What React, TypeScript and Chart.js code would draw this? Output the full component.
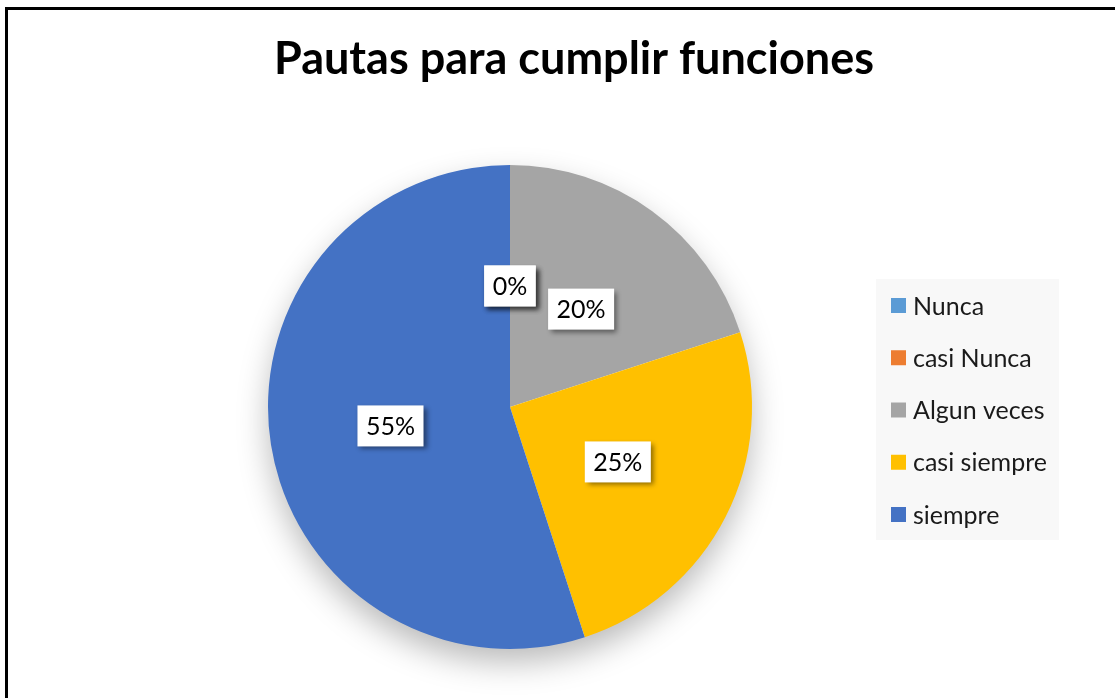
import React, { useEffect, useRef } from 'react';
import { Chart, registerables } from 'chart.js';

Chart.register(...registerables);

const titleText = 'Pautas para cumplir funciones';
const categories = ['Nunca', 'casi Nunca', 'Algun veces', 'casi siempre', 'siempre'];
const values = [0, 0, 20, 25, 55];
const sliceColors = ['#5B9BD5', '#ED7D31', '#A5A5A5', '#FFC000', '#4472C4'];

const FONT = 'Lato, "Open Sans", "Noto Sans", sans-serif';

export default function App() {
  const ref = useRef<HTMLCanvasElement>(null);

  useEffect(() => {
    if (!ref.current) return;
    const total = values.reduce((a, b) => a + b, 0);

    const decor = {
      id: 'excelDecor',
      beforeDatasetsDraw(chart: any) {
        const ctx = chart.ctx;
        const arc = chart.getDatasetMeta(0).data[0];
        if (!arc) return;
        const { x, y, outerRadius } = arc.getProps(['x', 'y', 'outerRadius'], true);
        ctx.save();
        ctx.shadowColor = 'rgba(0,0,0,0.28)';
        ctx.shadowBlur = 32;
        ctx.shadowOffsetX = 0;
        ctx.shadowOffsetY = 14;
        ctx.beginPath();
        ctx.arc(x, y, outerRadius - 1, 0, Math.PI * 2);
        ctx.fillStyle = '#ffffff';
        ctx.fill();
        ctx.restore();
      },
      afterDatasetsDraw(chart: any) {
        const ctx = chart.ctx;
        const meta = chart.getDatasetMeta(0);
        ctx.save();
        ctx.font = `25px ${FONT}`;
        meta.data.forEach((el: any, i: number) => {
          const pos = el.tooltipPosition(true);
          const txt = Math.round((values[i] / total) * 100) + '%';
          const tw = ctx.measureText(txt).width;
          const w = tw + 17;
          const h = 41;
          ctx.save();
          ctx.shadowColor = 'rgba(0,0,0,0.45)';
          ctx.shadowBlur = 5;
          ctx.shadowOffsetX = 3;
          ctx.shadowOffsetY = 3;
          ctx.fillStyle = '#ffffff';
          ctx.fillRect(pos.x - w / 2, pos.y - h / 2, w, h);
          ctx.restore();
          ctx.fillStyle = '#000000';
          ctx.textAlign = 'center';
          ctx.textBaseline = 'middle';
          ctx.fillText(txt, pos.x, pos.y + 1);
        });
        ctx.restore();
      },
      afterDraw(chart: any) {
        const ctx = chart.ctx;
        ctx.save();
        // title
        ctx.font = `bold 45px ${FONT}`;
        ctx.fillStyle = '#000000';
        ctx.textAlign = 'center';
        ctx.textBaseline = 'alphabetic';
        ctx.fillText(titleText, 574, 74);
        // legend
        ctx.fillStyle = '#F8F8F8';
        ctx.fillRect(876, 279, 183, 261);
        ctx.font = `25px ${FONT}`;
        ctx.textAlign = 'left';
        ctx.textBaseline = 'middle';
        categories.forEach((c, i) => {
          const cy = 305.5 + i * 52.25;
          ctx.fillStyle = sliceColors[i];
          ctx.fillRect(891, cy - 7.5, 15, 15);
          ctx.fillStyle = '#1a1a1a';
          ctx.fillText(c, 913, cy + 1);
        });
        ctx.restore();
      },
    };

    const chart = new Chart(ref.current, {
      type: 'pie',
      data: {
        labels: categories,
        datasets: [
          {
            data: values,
            backgroundColor: sliceColors,
            borderWidth: 0,
          },
        ],
      },
      options: {
        responsive: false,
        animation: false,
        layout: { padding: { top: 165, bottom: 49, left: 0, right: 95 } },
        plugins: {
          legend: { display: false },
          title: { display: false },
          tooltip: { enabled: false },
        },
      },
      plugins: [decor],
    });
    return () => chart.destroy();
  }, []);

  return (
    <div
      style={{
        position: 'fixed',
        left: 0,
        top: 0,
        width: 1115,
        height: 698,
        overflow: 'hidden',
        background: '#ffffff',
      }}
    >
      <div
        style={{
          position: 'absolute',
          left: 5,
          top: 7,
          width: 1300,
          height: 900,
          border: '3px solid #000000',
          boxSizing: 'border-box',
        }}
      />
      <canvas
        ref={ref}
        width={1115}
        height={698}
        style={{ position: 'absolute', left: 0, top: 0, width: 1115, height: 698 }}
      />
    </div>
  );
}
